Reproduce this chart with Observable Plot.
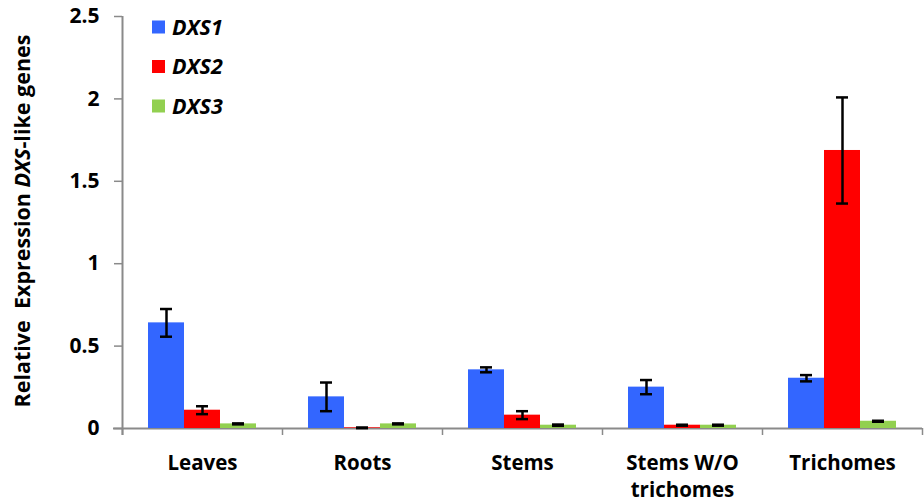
<!DOCTYPE html>
<html>
<head>
<meta charset="utf-8">
<script src="https://cdn.jsdelivr.net/npm/d3@7"></script>
<script src="https://cdn.jsdelivr.net/npm/@observablehq/plot@0.6"></script>
<style>
  html, body { margin: 0; padding: 0; background: #fff; }
  #chart { width: 924px; height: 503px; }
</style>
</head>
<body>
<div id="chart"></div>
<script>
// ---- data ----
const categories = ["Leaves", "Roots", "Stems", "Stems W/O trichomes", "Trichomes"];
const tickLabels = ["Leaves", "Roots", "Stems", "Stems W/O\ntrichomes", "Trichomes"];
const genes = ["DXS1", "DXS2", "DXS3"];
const dxs1 = [0.641, 0.192, 0.356, 0.251, 0.305];
const dxs1Err = [0.084, 0.087, 0.015, 0.043, 0.019];
const dxs2 = [0.111, 0.004, 0.081, 0.020, 1.687];
const dxs2Err = [0.024, 0.002, 0.024, 0.003, 0.322];
const dxs3 = [0.028, 0.028, 0.020, 0.020, 0.044];
const dxs3Err = [0.003, 0.003, 0.004, 0.003, 0.003];
const colors = ["#3366ff", "#ff0000", "#92d050"];
const yTicks = [0, 0.5, 1, 1.5, 2, 2.5];
const yTitle = ["Relative  Expression ", "DXS", "-like genes"];

// ---- layout ----
const W = 924, H = 503;
const mL = 122, mR = 2, mT = 16, mB = 75;
const bw = (W - mL - mR) / categories.length;
const barW = 36, capW = 12;
const gray = "#8a8a8a";
const font = "'Open Sans', 'DejaVu Sans', sans-serif";
const tickBelow = -7 * (yTicks[yTicks.length - 1]) / (H - mT - mB);

const values = [dxs1, dxs2, dxs3];
const errs = [dxs1Err, dxs2Err, dxs3Err];
const rows = [];
genes.forEach((g, gi) => categories.forEach((c, ci) => {
  rows.push({cat: c, gene: g, gi, value: values[gi][ci], err: errs[gi][ci]});
}));

const marks = [];
// axis lines
marks.push(Plot.ruleY([0], {stroke: gray, strokeWidth: 2, insetLeft: -9}));
marks.push(Plot.ruleX([categories[0]], {x: d => d, dx: -bw / 2, y1: tickBelow, y2: yTicks[yTicks.length - 1], stroke: gray, strokeWidth: 2}));
marks.push(Plot.ruleX(categories, {x: d => d, dx: -bw / 2, y1: tickBelow, y2: 0, stroke: gray, strokeWidth: 1.5}));
marks.push(Plot.ruleX([categories[categories.length - 1]], {x: d => d, dx: bw / 2, y1: tickBelow, y2: 0, stroke: gray, strokeWidth: 1.5}));

genes.forEach((g, gi) => {
  const data = rows.filter(r => r.gene === g);
  const dx = (gi - 1) * barW;
  marks.push(Plot.barY(data, {x: "cat", y: "value", fill: colors[gi], dx,
    insetLeft: (bw - barW) / 2, insetRight: (bw - barW) / 2}));
});
genes.forEach((g, gi) => {
  const data = rows.filter(r => r.gene === g);
  const dx = (gi - 1) * barW;
  marks.push(Plot.ruleX(data, {x: "cat", y1: d => d.value - d.err, y2: d => d.value + d.err, dx, stroke: "black", strokeWidth: 2.5}));
  marks.push(Plot.tickY(data, {x: "cat", y: d => d.value + d.err, dx, stroke: "black", strokeWidth: 2.5,
    insetLeft: (bw - capW) / 2, insetRight: (bw - capW) / 2}));
  marks.push(Plot.tickY(data, {x: "cat", y: d => d.value - d.err, dx, stroke: "black", strokeWidth: 2.5,
    insetLeft: (bw - capW) / 2, insetRight: (bw - capW) / 2}));
});

marks.push(Plot.axisY({ticks: yTicks, tickFormat: d => String(d), tickSize: 8, tickPadding: 15,
  stroke: gray, fill: "black", strokeWidth: 1.5, fontSize: 21, fontWeight: "bold", label: null}));
marks.push(Plot.axisX({tickSize: 0, tickPadding: 23, tickFormat: d => tickLabels[categories.indexOf(d)],
  lineHeight: 1.3, fill: "black", fontSize: 20.5, fontWeight: "bold", label: null}));

const svgNode = Plot.plot({
  width: W, height: H,
  marginLeft: mL, marginRight: mR, marginTop: mT, marginBottom: mB,
  x: {domain: categories, padding: 0, label: null},
  y: {domain: [0, yTicks[yTicks.length - 1]], label: null},
  style: {fontFamily: font, fontSize: "20px", fontWeight: "bold", background: "white", color: "black", overflow: "visible"},
  marks
});
document.getElementById("chart").appendChild(svgNode);

const svg = d3.select(svgNode);
// legend
const lg = svg.append("g").attr("font-family", font).attr("font-size", 21.5).attr("font-weight", "bold")
  .attr("font-style", "italic").attr("text-anchor", "start");
genes.forEach((g, i) => {
  const cy = 27 + i * 39.5;
  lg.append("rect").attr("x", 152).attr("y", cy - 6.5).attr("width", 13).attr("height", 13).attr("fill", colors[i]);
  lg.append("text").attr("x", 172).attr("y", cy + 7.5).attr("fill", "black").text(g);
});
// y title
const t = svg.append("text")
  .attr("transform", "translate(30,221) rotate(-90)")
  .attr("text-anchor", "middle")
  .attr("font-family", font).attr("font-size", 21.5).attr("font-weight", "bold")
  .attr("fill", "black")
  .style("white-space", "pre");
t.append("tspan").text(yTitle[0]);
t.append("tspan").attr("font-style", "italic").text(yTitle[1]);
t.append("tspan").text(yTitle[2]);
</script>
</body>
</html>
